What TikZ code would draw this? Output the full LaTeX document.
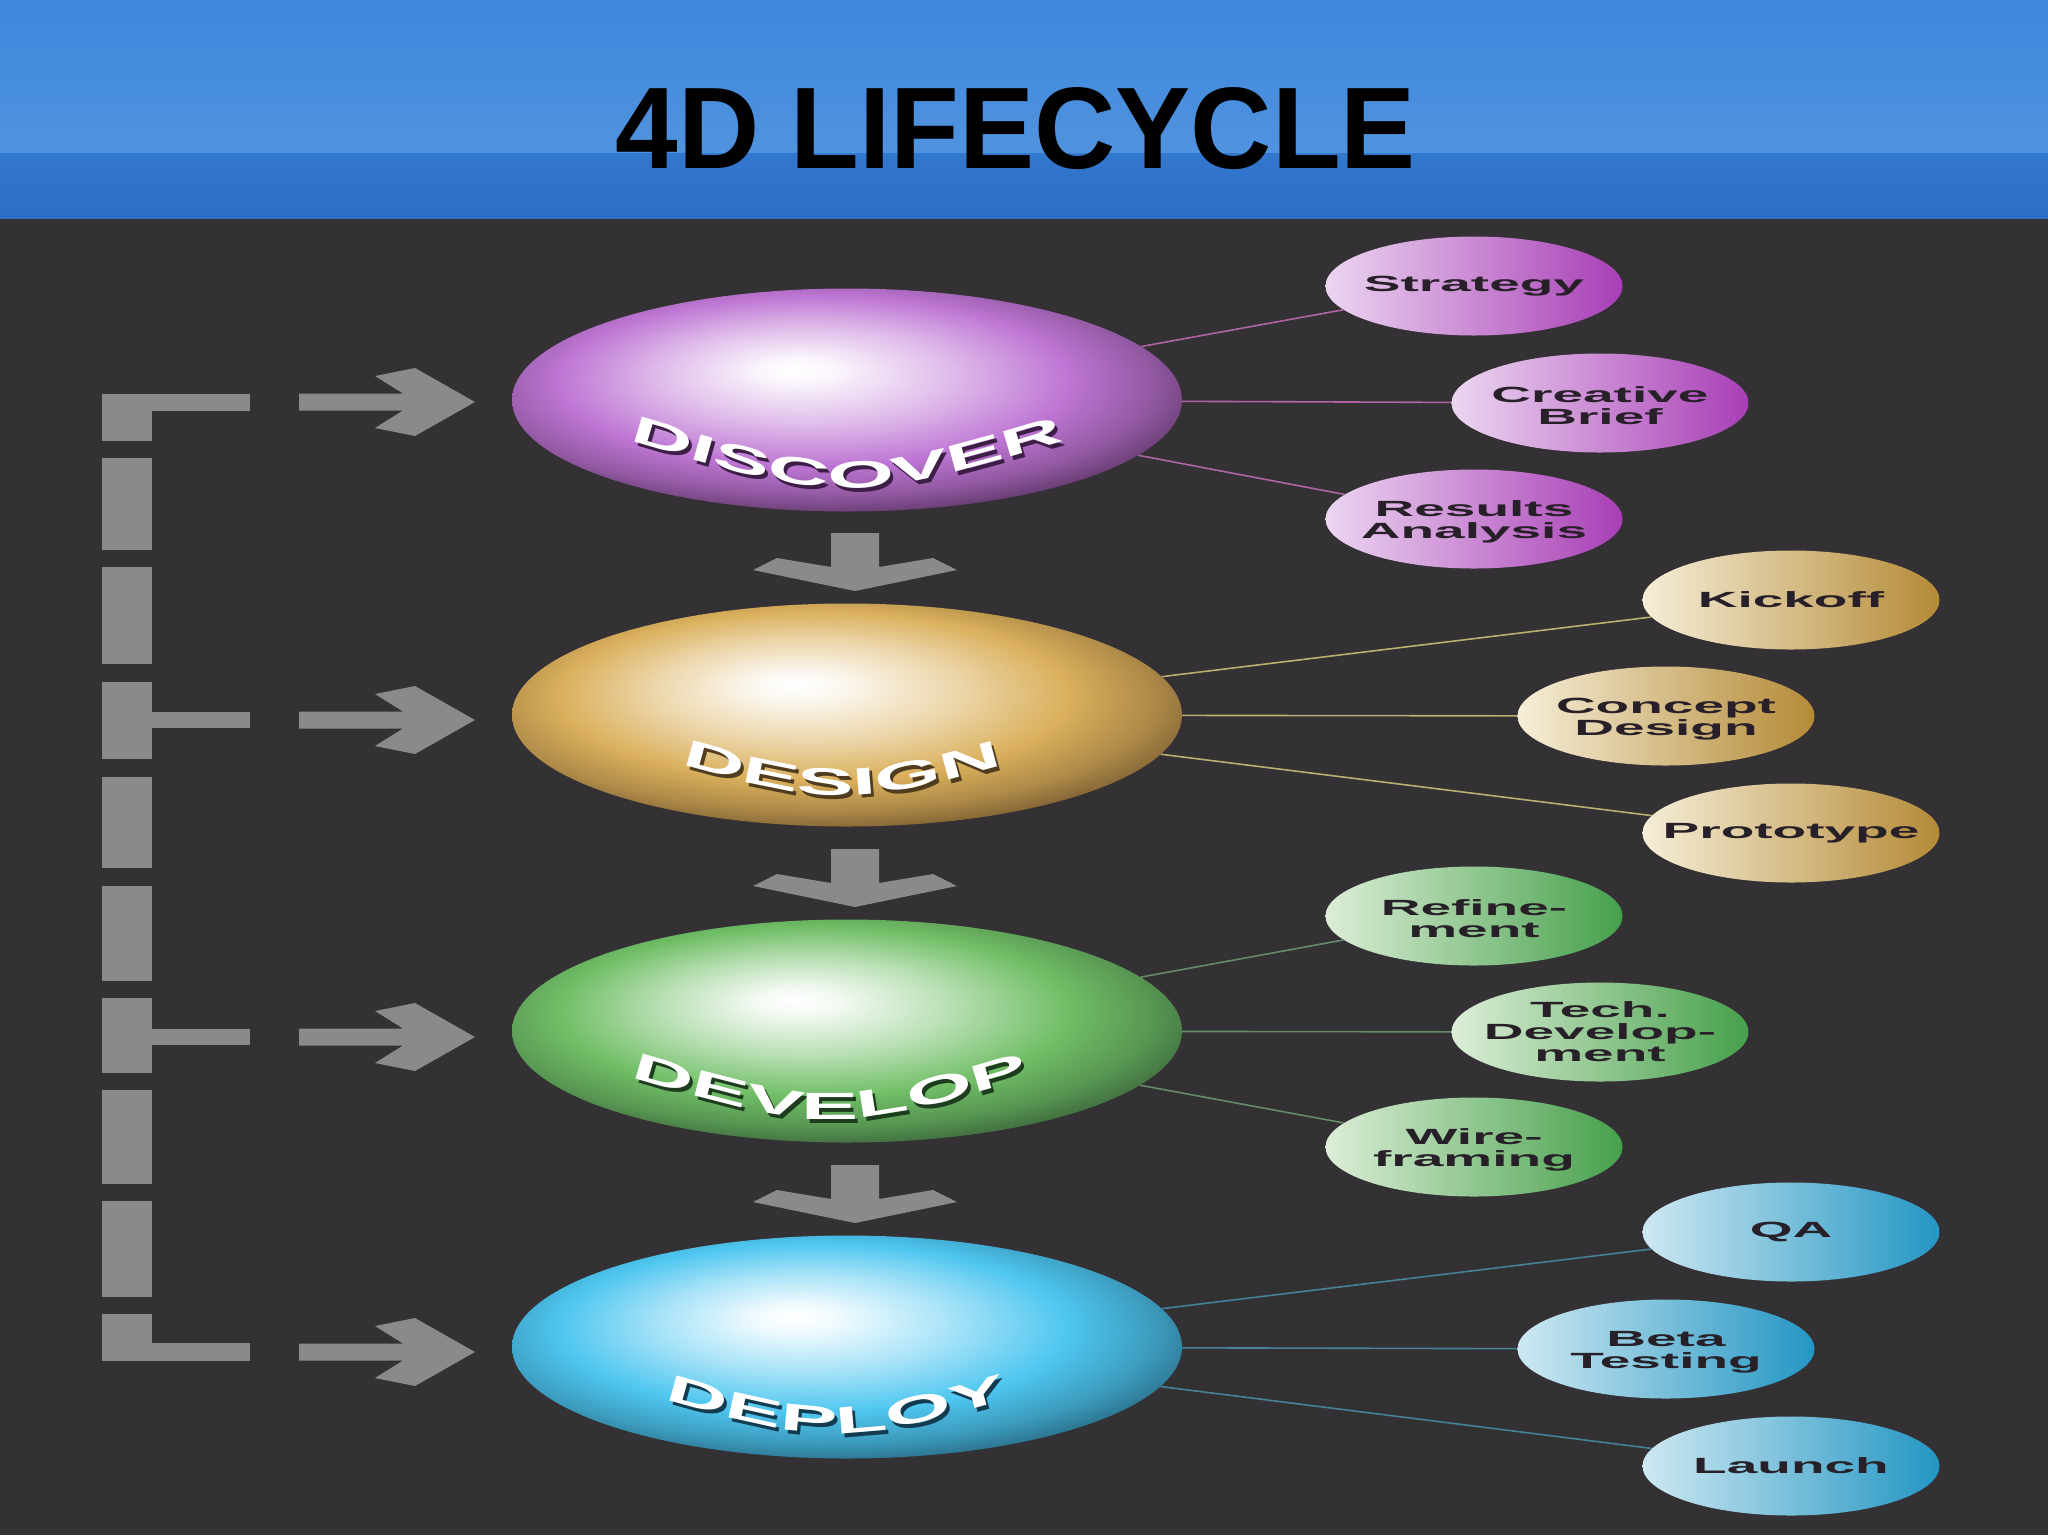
\documentclass[tikz,border=0pt]{standalone}
\usepackage{fontspec}
\setmainfont{Liberation Sans}
\newfontfamily\titlefont{Liberation Sans}[FakeStretch=0.97]
\newfontfamily\widefont{Liberation Sans}[FakeStretch=2.25]
\newfontfamily\smallwide{Liberation Sans}[FakeStretch=2.5]
\usetikzlibrary{shapes.geometric,decorations.text,calc}

\definecolor{bg}{RGB}{51,49,52}
\definecolor{hdrA}{RGB}{61,135,220}
\definecolor{hdrB}{RGB}{80,147,223}
\definecolor{hdrC}{RGB}{50,120,205}
\definecolor{hdrD}{RGB}{44,110,198}
\definecolor{agray}{RGB}{138,138,140}
\definecolor{txtdark}{RGB}{40,32,40}

\definecolor{pEdge}{RGB}{190,118,212}
\definecolor{pDark}{RGB}{100,58,110}
\definecolor{pRim}{RGB}{140,100,150}
\definecolor{gEdge}{RGB}{218,176,92}
\definecolor{gDark}{RGB}{128,98,52}
\definecolor{gRim}{RGB}{165,145,105}
\definecolor{vEdge}{RGB}{112,190,102}
\definecolor{vDark}{RGB}{62,108,62}
\definecolor{vRim}{RGB}{110,140,105}
\definecolor{bEdge}{RGB}{78,198,240}
\definecolor{bDark}{RGB}{42,112,138}
\definecolor{bRim}{RGB}{85,140,160}

\definecolor{subPl}{RGB}{236,214,241}
\definecolor{subPr}{RGB}{168,62,182}
\definecolor{subGl}{RGB}{246,238,216}
\definecolor{subGr}{RGB}{180,138,55}
\definecolor{subVl}{RGB}{220,238,215}
\definecolor{subVr}{RGB}{70,160,75}
\definecolor{subBl}{RGB}{206,232,242}
\definecolor{subBr}{RGB}{35,150,195}

\definecolor{linP}{RGB}{175,100,165}
\definecolor{linG}{RGB}{185,175,110}
\definecolor{linV}{RGB}{100,140,105}
\definecolor{linB}{RGB}{70,130,155}

\definecolor{shP}{RGB}{60,30,70}
\definecolor{shG}{RGB}{80,60,30}
\definecolor{shV}{RGB}{30,60,30}
\definecolor{shB}{RGB}{20,60,80}

\newcommand\mkball[4]{%
  \pgfdeclareradialshading{#1}{\pgfpoint{-4bp}{7bp}}{%
    color(0bp)=(white);
    color(3bp)=(#2!8!white);
    color(11bp)=(#2!50!white);
    color(19bp)=(#2);
    color(25bp)=(#2!50!#3);
    color(29bp)=(#3);
    color(33bp)=(#4);
    color(50bp)=(#4)}}
\mkball{discshade}{pEdge}{pDark}{pRim}
\mkball{desshade}{gEdge}{gDark}{gRim}
\mkball{devshade}{vEdge}{vDark}{vRim}
\mkball{depshade}{bEdge}{bDark}{bRim}

\newcommand\labelfont{\widefont\bfseries\fontsize{38}{38}\selectfont}

% #1 node, #2 text, #3 mid y offset, #4 x offset, #5 shadow colour
\newcommand\balllabel[5]{%
  \path[decorate,decoration={text along path,text align=center,text color=#5,
      text={|\labelfont|#2}}]
    ($(#1.center)+(#4-240+3,#3-36+4)$) .. controls ($(#1.center)+(#4+3,#3+36+4)$) .. ($(#1.center)+(#4+240+3,#3-36+4)$);
  \path[decorate,decoration={text along path,text align=center,text color=white,
      text={|\labelfont|#2}}]
    ($(#1.center)+(#4-240,#3-36)$) .. controls ($(#1.center)+(#4,#3+36)$) .. ($(#1.center)+(#4+240,#3-36)$);
}

\tikzset{
  ball/.style={ellipse, minimum width=670pt, minimum height=223pt, inner sep=0pt, shade},
  sub/.style={ellipse, minimum width=297pt, minimum height=99pt, inner sep=0pt},
  subP/.style={sub, left color=subPl, right color=subPr},
  subG/.style={sub, left color=subGl, right color=subGr},
  subV/.style={sub, left color=subVl, right color=subVr},
  subB/.style={sub, left color=subBl, right color=subBr},
  subtext/.style={font=\smallwide\bfseries\fontsize{22}{22}\selectfont, text=txtdark, align=center, inner sep=0pt},
  twoline/.style={yshift=-3pt},
  conn/.style={line width=1.6pt},
}

\begin{document}
\begin{tikzpicture}[x=1pt,y=-1pt]
\useasboundingbox (0,0) rectangle (2048,1535);
\fill[bg] (0,0) rectangle (2048,1535);

% header
\shade[top color=hdrA, bottom color=hdrB] (0,0) rectangle (2048,153);
\shade[top color=hdrC, bottom color=hdrD] (0,153) rectangle (2048,218);
\node[font=\titlefont\bfseries\fontsize{116}{120}\selectfont, anchor=base, inner sep=0pt] (title) at (1016,168) {4D LIFECYCLE};

% big balls
\node[ball, shading=discshade] (disc) at (847,400) {};
\node[ball, shading=desshade] (des) at (847,715) {};
\node[ball, shading=devshade] (dev) at (847,1031) {};
\node[ball, shading=depshade] (dep) at (847,1347) {};

\balllabel{disc}{DISCOVER}{70}{0}{shP}
\balllabel{des}{DESIGN}{62}{-5}{shG}
\balllabel{dev}{DEVELOP}{70}{-17}{shV}
\balllabel{dep}{DEPLOY}{68}{-11}{shB}

% sub ellipses
\node[subP] (strat) at (1474,286) {};
\node[subP] (cbrief) at (1600,403) {};
\node[subP] (results) at (1474,519) {};
\node[subG] (kick) at (1791,600) {};
\node[subG] (concept) at (1666,716) {};
\node[subG] (proto) at (1791,833) {};
\node[subV] (refine) at (1474,916) {};
\node[subV] (tech) at (1600,1032) {};
\node[subV] (wire) at (1474,1147) {};
\node[subB] (qa) at (1791,1232) {};
\node[subB] (beta) at (1666,1349) {};
\node[subB] (launch) at (1791,1466) {};

\node[subtext] (stratT) at (strat.center) {Strategy};
\node[subtext, twoline] (cbriefT) at (cbrief.center) {Creative\\Brief};
\node[subtext, twoline] (resultsT) at (results.center) {Results\\Analysis};
\node[subtext] (kickT) at (kick.center) {Kickoff};
\node[subtext, twoline] (conceptT) at (concept.center) {Concept\\Design};
\node[subtext] (protoT) at (proto.center) {Prototype};
\node[subtext, twoline] (refineT) at (refine.center) {Refine-\\ment};
\node[subtext] (techT) at (tech.center) {Tech.\\Develop-\\ment};
\node[subtext, twoline] (wireT) at (wire.center) {Wire-\\framing};
\node[subtext] (qaT) at (qa.center) {QA};
\node[subtext, twoline] (betaT) at (beta.center) {Beta\\Testing};
\node[subtext] (launchT) at (launch.center) {Launch};

% connectors
\draw[conn, linP] (disc) -- (strat);
\draw[conn, linP] (disc) -- (cbrief);
\draw[conn, linP] (disc) -- (results);
\draw[conn, linG] (des) -- (kick);
\draw[conn, linG] (des) -- (concept);
\draw[conn, linG] (des) -- (proto);
\draw[conn, linV] (dev) -- (refine);
\draw[conn, linV] (dev) -- (tech);
\draw[conn, linV] (dev) -- (wire);
\draw[conn, linB] (dep) -- (qa);
\draw[conn, linB] (dep) -- (beta);
\draw[conn, linB] (dep) -- (launch);

% down arrows
\foreach \t in {533,849,1165}{
  \fill[agray] (831,\t) -- (879,\t) -- (879,\t+34) -- (933,\t+25) -- (957,\t+37)
    -- (855,\t+58) -- (753,\t+37) -- (777,\t+25) -- (831,\t+34) -- cycle;
}

% right arrows
\foreach \c in {402,720,1037,1352}{
  \fill[agray] (299,\c-8.5) -- (403,\c-8.5) -- (375,\c-26) -- (415,\c-34) -- (475,\c)
    -- (415,\c+34) -- (375,\c+26) -- (403,\c+8.5) -- (299,\c+8.5) -- cycle;
}

% dashed bracket
\foreach \a/\b in {394/441,458/550,567/664,682/759,777/868,886/981,998/1073,1090/1184,1201/1297,1314/1361}{
  \fill[agray] (102,\a) rectangle (152,\b);
}
\fill[agray] (152,394) rectangle (250,411);
\fill[agray] (152,712) rectangle (250,728);
\fill[agray] (152,1029) rectangle (250,1045);
\fill[agray] (152,1343) rectangle (250,1361);
\end{tikzpicture}
\end{document}
